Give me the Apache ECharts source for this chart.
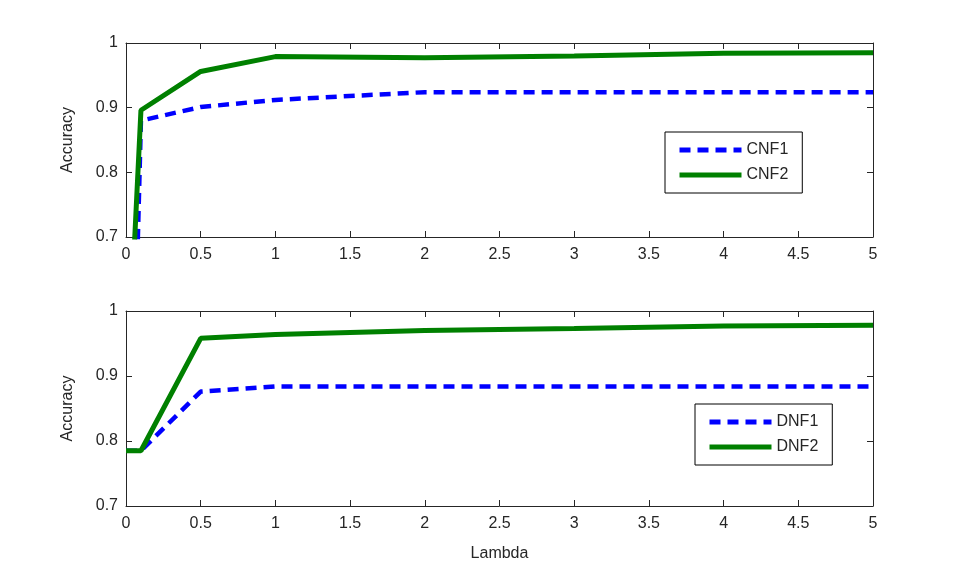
<!DOCTYPE html>
<html>
<head>
<meta charset="utf-8">
<script src="https://cdn.jsdelivr.net/npm/echarts@6/dist/echarts.min.js"></script>
<style>
html,body{margin:0;padding:0;background:#fff;}
#main{width:965px;height:569px;}
</style>
</head>
<body>
<div id="main"></div>
<script>
var myChart = echarts.init(document.getElementById('main'));

/* lambda values */
var lambda = [0, 0.1, 0.5, 1, 2, 3, 4, 5];
/* upper panel */
var cnf1 = [0, 0.880, 0.901, 0.912, 0.924, 0.924, 0.924, 0.924];
var cnf2 = [0.42, 0.896, 0.956, 0.979, 0.977, 0.980, 0.984, 0.985];
/* lower panel */
var dnf1 = [0.785, 0.785, 0.876, 0.884, 0.884, 0.884, 0.884, 0.884];
var dnf2 = [0.785, 0.785, 0.958, 0.964, 0.970, 0.973, 0.977, 0.978];

var xTicks = ['0', '0.5', '1', '1.5', '2', '2.5', '3', '3.5', '4', '4.5', '5'];
var yTicks = ['0.7', '0.8', '0.9', '1'];

function pairs(ys) {
    var out = [];
    for (var i = 0; i < lambda.length; i++) out.push([lambda[i], ys[i]]);
    return out;
}

var font = 'Liberation Sans, Arial, sans-serif';
var axisColor = '#262626';

function xAxis(grid, top, name) {
    return {
        type: 'value', gridIndex: grid, position: top ? 'top' : 'bottom',
        min: 0, max: 5, interval: 0.5,
        name: name || '', nameLocation: 'middle', nameGap: 40,
        nameTextStyle: {fontFamily: font, fontSize: 16, color: axisColor},
        axisLine: {show: true, onZero: false, lineStyle: {color: axisColor, width: 1}},
        axisTick: {show: true, inside: true, length: 6, lineStyle: {color: axisColor}},
        axisLabel: {show: !top, margin: 10, fontFamily: font, fontSize: 16, color: axisColor,
            formatter: function (v) { return xTicks[Math.round(v / 0.5)]; }},
        splitLine: {show: false}
    };
}
function yAxis(grid, right) {
    return {
        type: 'value', gridIndex: grid, position: right ? 'right' : 'left',
        min: 0.7, max: 1, interval: 0.1,
        name: right ? '' : 'Accuracy', nameLocation: 'middle', nameGap: 50, nameRotate: 90,
        nameTextStyle: {fontFamily: font, fontSize: 16, color: axisColor},
        axisLine: {show: true, onZero: false, lineStyle: {color: axisColor, width: 1}},
        axisTick: {show: true, inside: true, length: 6, lineStyle: {color: axisColor}},
        axisLabel: {show: !right, margin: 8, fontFamily: font, fontSize: 16, color: axisColor,
            formatter: function (v) { return yTicks[Math.round((v - 0.7) / 0.1)]; }},
        splitLine: {show: false}
    };
}
function legend(names, left, top) {
    return {
        data: names, orient: 'vertical', left: left, top: top,
        backgroundColor: '#fff', borderColor: '#000', borderWidth: 1,
        padding: [10, 14, 10, 12], itemWidth: 62, itemHeight: 16, itemGap: 9,
        itemStyle: {color: 'transparent', borderWidth: 0},
        lineStyle: {width: 5},
        textStyle: {fontFamily: font, fontSize: 16, color: axisColor}
    };
}
function line(name, ys, idx, blue) {
    return {
        name: name, type: 'line', xAxisIndex: idx, yAxisIndex: idx,
        data: pairs(ys), symbol: 'none', clip: true,
        lineStyle: blue ? {color: '#0000ff', width: 4.5, type: [11, 7], cap: 'butt'}
                        : {color: '#008000', width: 5},
        itemStyle: {color: blue ? '#0000ff' : '#008000'},
        z: blue ? 2 : 3
    };
}

var option = {
    backgroundColor: '#fff',
    animation: false,
    grid: [
        {left: 126, top: 43, width: 747, height: 194},
        {left: 126, top: 311, width: 747, height: 195}
    ],
    xAxis: [xAxis(0, false), xAxis(0, true), xAxis(1, false, 'Lambda'), xAxis(1, true)],
    yAxis: [yAxis(0, false), yAxis(0, true), yAxis(1, false), yAxis(1, true)],
    legend: [legend(['CNF1', 'CNF2'], 665, 132), legend(['DNF1', 'DNF2'], 695, 404)],
    series: [
        line('CNF1', cnf1, 0, true),
        line('CNF2', cnf2, 0, false),
        line('DNF1', dnf1, 2, true),
        line('DNF2', dnf2, 2, false)
    ]
};
myChart.setOption(option);
</script>
</body>
</html>
